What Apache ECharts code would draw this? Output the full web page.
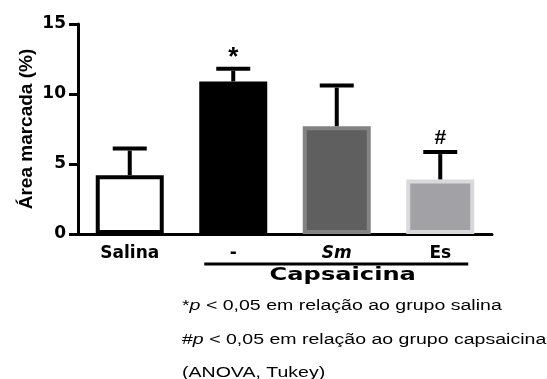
<!DOCTYPE html>
<html>
<head>
<meta charset="utf-8">
<style>
  html, body { margin: 0; padding: 0; background: #ffffff; }
  #chart { width: 547px; height: 379px; }
</style>
<script src="https://cdn.jsdelivr.net/npm/echarts@6/dist/echarts.min.js"></script>
</head>
<body>
<div id="chart"></div>
<script>
// Marked area per group (mean and upper SEM bar)
const groups = ['Salina', '-', 'Sm', 'Es'];
const italicGroups = ['Sm'];
const meanArea = [4.2, 10.9, 7.7, 3.9];
const semArea = [1.9, 0.9, 2.9, 1.95];
const signif = ['', '*', '', '#'];
const yTicks = [0, 5, 10, 15];
const treatmentLabel = 'Capsaicina';
const treatedGroups = ['-', 'Sm', 'Es'];
const notes = [
  '*{i|p} < 0,05 em relação ao grupo salina',
  '#{i|p} < 0,05 em relação ao grupo capsaicina',
  '(ANOVA, Tukey)'
];

const barStyles = [
  { color: '#ffffff', borderColor: '#000000', borderWidth: 4 },
  { color: '#000000', borderColor: '#000000', borderWidth: 2 },
  { color: '#5f5f5f', borderColor: '#838383', borderWidth: 4 },
  { color: '#a2a2a6', borderColor: '#d9d9d9', borderWidth: 4 }
];

const BOLD = '"DejaVu Sans", sans-serif';
const ARIAL = '"Liberation Sans", Arial, sans-serif';

const chart = echarts.init(document.getElementById('chart'), null, { renderer: 'canvas' });

const option = {
  animation: false,
  backgroundColor: '#ffffff',
  grid: { left: 78, right: 55, top: 24, bottom: 145, containLabel: false },
  xAxis: {
    type: 'category',
    data: groups,
    boundaryGap: true,
    axisLine: { lineStyle: { color: '#000', width: 3 } },
    axisTick: { alignWithLabel: true, length: 6, lineStyle: { color: '#000', width: 3 } },
    axisLabel: {
      margin: 11,
      color: '#000',
      fontFamily: BOLD,
      fontWeight: 'bold',
      fontSize: 17,
      formatter: v => italicGroups.includes(v) ? '{it|' + v + '}' : v,
      rich: {
        it: { fontFamily: BOLD, fontWeight: 'bold', fontStyle: 'italic', fontSize: 17, color: '#000' }
      }
    }
  },
  yAxis: {
    type: 'value',
    min: yTicks[0],
    max: yTicks[yTicks.length - 1],
    interval: yTicks[1] - yTicks[0],
    name: 'Área marcada (%)',
    nameLocation: 'middle',
    nameGap: 42,
    nameMoveOverlap: false,
    nameRotate: 90,
    nameTextStyle: { fontFamily: ARIAL, fontWeight: 'bold', fontSize: 19, color: '#000' },
    splitLine: { show: false },
    axisLine: { show: true, lineStyle: { color: '#000', width: 3 } },
    axisTick: { show: true, length: 9, lineStyle: { color: '#000', width: 3 } },
    axisLabel: { margin: 12, color: '#000', fontFamily: BOLD, fontWeight: 'bold', fontSize: 17 }
  },
  series: [
    {
      type: 'bar',
      barWidth: 68,
      data: meanArea.map((v, i) => ({ value: v, itemStyle: barStyles[i] })),
      z: 2
    },
    {
      type: 'custom',
      z: 3,
      data: meanArea.map((m, i) => [i, m, semArea[i]]),
      renderItem(params, api) {
        const i = api.value(0);
        const m = api.value(1);
        const e = api.value(2);
        const base = api.coord([i, m]);
        const top = api.coord([i, m + e]);
        const half = 17;
        const stroke = { stroke: '#000', lineWidth: 4 };
        const children = [
          { type: 'line', shape: { x1: base[0], y1: base[1], x2: top[0], y2: top[1] + 2 }, style: stroke },
          { type: 'line', shape: { x1: top[0] - half, y1: top[1], x2: top[0] + half, y2: top[1] }, style: stroke }
        ];
        const mark = signif[i];
        if (mark) {
          const star = mark === '*';
          children.push({
            type: 'text',
            x: top[0],
            y: top[1] + (star ? 2 : -3),
            style: {
              text: mark,
              textAlign: 'center',
              textVerticalAlign: 'bottom',
              font: 'bold ' + (star ? 26 : 21) + 'px ' + ARIAL,
              fill: '#000'
            }
          });
        }
        return { type: 'group', children };
      }
    }
  ]
};

chart.setOption(option);

// Bracket under the capsaicin-treated groups, with its caption and the footnotes
const firstX = chart.convertToPixel({ xAxisIndex: 0 }, treatedGroups[0]);
const lastX = chart.convertToPixel({ xAxisIndex: 0 }, treatedGroups[treatedGroups.length - 1]);
const lineY = 264;
const graphics = [
  {
    type: 'line',
    shape: { x1: firstX - 29, y1: lineY, x2: lastX + 28, y2: lineY },
    style: { stroke: '#000', lineWidth: 3 }
  },
  {
    type: 'text',
    x: (firstX + lastX) / 2 + 6,
    y: 276,
    scaleX: 1.42,
    style: {
      text: treatmentLabel,
      textAlign: 'center',
      textVerticalAlign: 'middle',
      fontFamily: BOLD,
      fontWeight: 'bold',
      fontSize: 17,
      fill: '#000'
    }
  }
];
notes.forEach((t, k) => {
  graphics.push({
    type: 'text',
    x: 182,
    y: 306 + k * 33.3,
    scaleX: 1.26,
    style: {
      text: t,
      textAlign: 'left',
      textVerticalAlign: 'middle',
      fontFamily: ARIAL,
      fontSize: 15.5,
      fill: '#000',
      rich: {
        i: { fontFamily: ARIAL, fontSize: 15.5, fontStyle: 'italic', fill: '#000' }
      }
    }
  });
});
chart.setOption({ graphic: graphics });
</script>
</body>
</html>
